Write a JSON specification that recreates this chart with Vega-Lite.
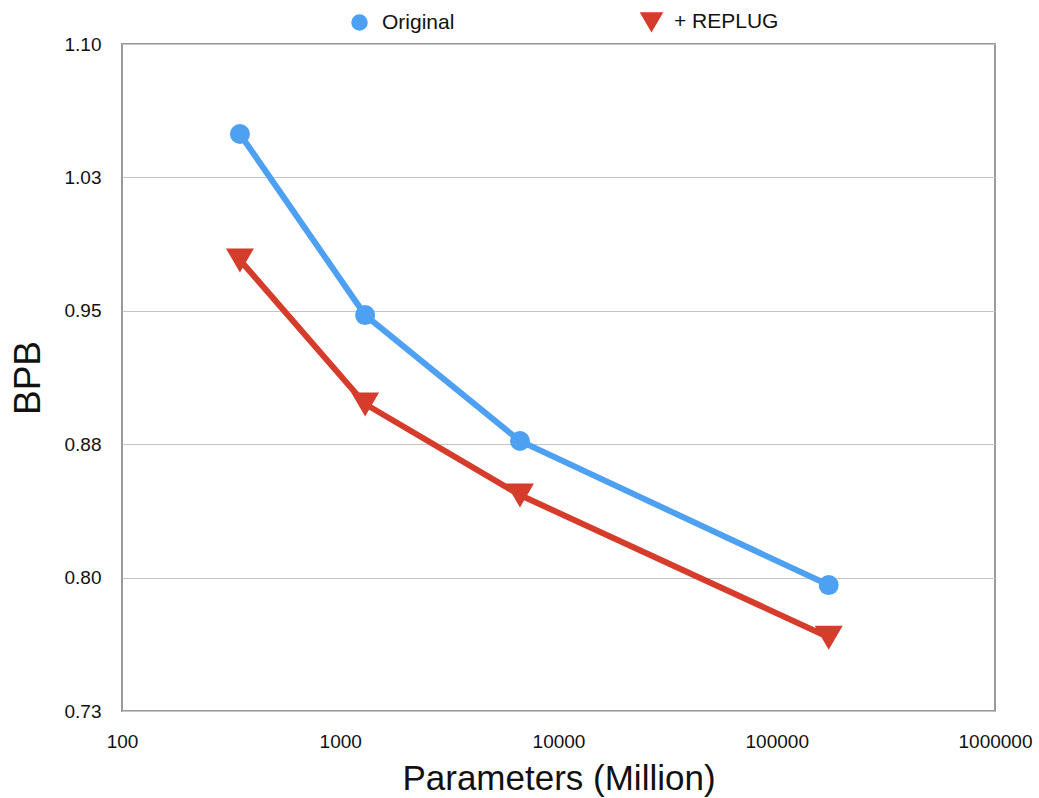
{
  "$schema": "https://vega.github.io/schema/vega-lite/v6.json",
  "width": 873,
  "height": 667,
  "autosize": {"type": "none"},
  "padding": {"left": 122, "top": 44, "right": 44, "bottom": 87},
  "background": "white",
  "config": {
    "font": "Liberation Sans",
    "view": {"stroke": "#9a9a9a", "strokeWidth": 2}
  },
  "data": {
    "values": [
      {"params": 347, "bpb": 1.0494, "model": "Original"},
      {"params": 1300, "bpb": 0.9476, "model": "Original"},
      {"params": 6660, "bpb": 0.8768, "model": "Original"},
      {"params": 173000, "bpb": 0.7958, "model": "Original"},
      {"params": 347, "bpb": 0.9786, "model": "+ REPLUG"},
      {"params": 1300, "bpb": 0.8976, "model": "+ REPLUG"},
      {"params": 6660, "bpb": 0.8464, "model": "+ REPLUG"},
      {"params": 173000, "bpb": 0.7665, "model": "+ REPLUG"}
    ]
  },
  "encoding": {
    "x": {
      "field": "params",
      "type": "quantitative",
      "scale": {"type": "log", "domain": [100, 1000000], "nice": false},
      "axis": {
        "title": "Parameters (Million)",
        "values": [100, 1000, 10000, 100000, 1000000],
        "format": "d",
        "grid": false,
        "ticks": false,
        "domain": false,
        "labelFlush": false,
        "labelFontSize": 19,
        "labelColor": "#111",
        "labelPadding": 21,
        "titleFontSize": 35,
        "titleFontWeight": "normal",
        "titleColor": "#111",
        "titlePadding": 10
      }
    },
    "y": {
      "field": "bpb",
      "type": "quantitative",
      "scale": {"domain": [0.725, 1.1], "nice": false, "zero": false},
      "axis": {
        "title": "BPB",
        "values": [0.725, 0.8, 0.875, 0.95, 1.025, 1.1],
        "labelExpr": "format(datum.value + 0.0001, '.2f')",
        "grid": true,
        "gridColor": "#c4c4c4",
        "gridWidth": 1,
        "ticks": false,
        "domain": false,
        "labelFlush": false,
        "labelFontSize": 19,
        "labelColor": "#111",
        "labelPadding": 21,
        "titleFontSize": 37,
        "titleFontWeight": "normal",
        "titleColor": "#111",
        "titlePadding": 17
      }
    },
    "color": {
      "field": "model",
      "type": "nominal",
      "scale": {"domain": ["Original", "+ REPLUG"], "range": ["#4da0f2", "#d63c2b"]},
      "legend": {
        "title": null,
        "orient": "none",
        "legendX": 227,
        "legendY": -33,
        "direction": "horizontal",
        "labelFontSize": 21,
        "labelColor": "#111",
        "symbolSize": 225,
        "columnPadding": 183,
        "labelOffset": 12
      }
    }
  },
  "layer": [
    {
      "mark": {"type": "line", "strokeWidth": 6}
    },
    {
      "mark": {"type": "point", "filled": true, "opacity": 1, "size": 400},
      "encoding": {
        "shape": {
          "field": "model",
          "type": "nominal",
          "scale": {"domain": ["Original", "+ REPLUG"], "range": ["circle", "M-1.4,-1.15L1.4,-1.15L0,1.25Z"]},
          "legend": {
            "title": null,
            "orient": "none",
            "legendX": 227,
            "legendY": -33,
            "direction": "horizontal",
            "labelFontSize": 21,
            "labelColor": "#111",
            "symbolSize": 225,
            "columnPadding": 183,
            "labelOffset": 12
          }
        }
      }
    }
  ]
}
